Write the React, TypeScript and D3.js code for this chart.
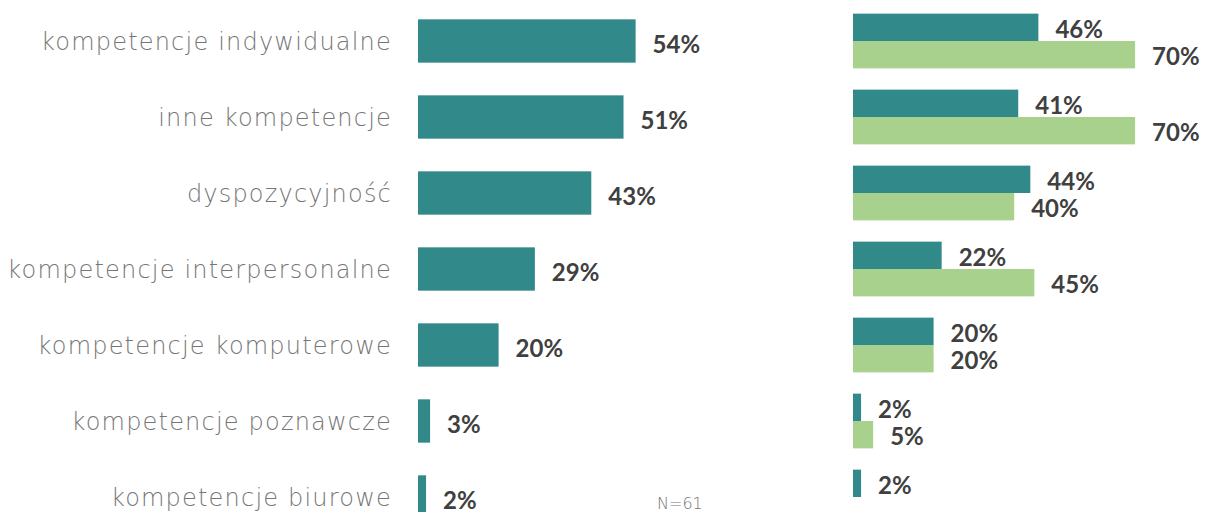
import React from "react";
import * as d3 from "d3";

const categories = [
  "kompetencje indywidualne",
  "inne kompetencje",
  "dyspozycyjność",
  "kompetencje interpersonalne",
  "kompetencje komputerowe",
  "kompetencje poznawcze",
  "kompetencje biurowe",
];
const totalValues = [54, 51, 43, 29, 20, 3, 2];
const seriesA = [46, 41, 44, 22, 20, 2, 2];
const seriesB = [70, 70, 40, 45, 20, 5, 0];
const seriesKeys = ["a", "b"];

const W = 1205;
const H = 512;
const TEAL = "#318a89";
const GREEN = "#a9d18e";
const VALUE_COLOR = "#404040";
const LABEL_COLOR = "#767676";

const App: React.FC = () => {
  const y = d3
    .scaleBand<string>()
    .domain(categories)
    .range([3, 535])
    .paddingInner(0.43)
    .paddingOuter(0.215);

  const yPair = d3
    .scaleBand<string>()
    .domain(categories)
    .range([3, 535])
    .paddingInner(0.28)
    .paddingOuter(0.14);

  const ySub = d3.scaleBand<string>().domain(seriesKeys).range([0, yPair.bandwidth()]);

  const x = d3.scaleLinear().domain([0, 100]).range([0, 403]);
  const leftX0 = 418;
  const rightX0 = 853;

  const valueFont = {
    fontFamily: 'Lato, "Noto Sans", sans-serif',
    fontWeight: 700,
    fontSize: 24,
    fill: VALUE_COLOR,
  } as const;

  return (
    <svg
      width={W}
      height={H}
      viewBox={`0 0 ${W} ${H}`}
      style={{ position: "absolute", left: 0, top: 0, background: "#fff" }}
    >
      {/* category labels */}
      {categories.map((c) => (
        <text
          key={c}
          x={392}
          y={(y(c) ?? 0) + y.bandwidth() / 2 + 1}
          textAnchor="end"
          dominantBaseline="central"
          fill={LABEL_COLOR}
          fontFamily='"DejaVu Sans", sans-serif'
          fontWeight={300}
          fontSize={24}
          letterSpacing={1.2}
        >
          {c}
        </text>
      ))}

      {/* left panel: total */}
      {categories.map((c, i) => {
        const top = y(c) ?? 0;
        const w = x(totalValues[i]);
        return (
          <g key={c}>
            <rect x={leftX0} y={top} width={w} height={y.bandwidth()} fill={TEAL} />
            <text
              x={leftX0 + w + 17}
              y={top + y.bandwidth() / 2 + 2}
              dominantBaseline="central"
              {...valueFont}
            >
              {totalValues[i]}%
            </text>
          </g>
        );
      })}

      {/* right panel: two series */}
      {categories.map((c, i) => {
        const top = yPair(c) ?? 0;
        const vals = [seriesA[i], seriesB[i]];
        return (
          <g key={c}>
            {seriesKeys.map((k, j) => {
              const v = vals[j];
              if (!v) return null;
              const yy = top + (ySub(k) ?? 0);
              const w = x(v);
              return (
                <g key={k}>
                  <rect
                    x={rightX0}
                    y={yy}
                    width={w}
                    height={ySub.bandwidth()}
                    fill={j === 0 ? TEAL : GREEN}
                  />
                  <text
                    x={rightX0 + w + 17}
                    y={yy + ySub.bandwidth() / 2 + 1}
                    dominantBaseline="central"
                    {...valueFont}
                  >
                    {v}%
                  </text>
                </g>
              );
            })}
          </g>
        );
      })}

      <text
        x={657}
        y={509}
        fill={LABEL_COLOR}
        fontFamily='"DejaVu Sans", sans-serif'
        fontWeight={300}
        fontSize={16}
      >
        N=61
      </text>
    </svg>
  );
};

export default App;
